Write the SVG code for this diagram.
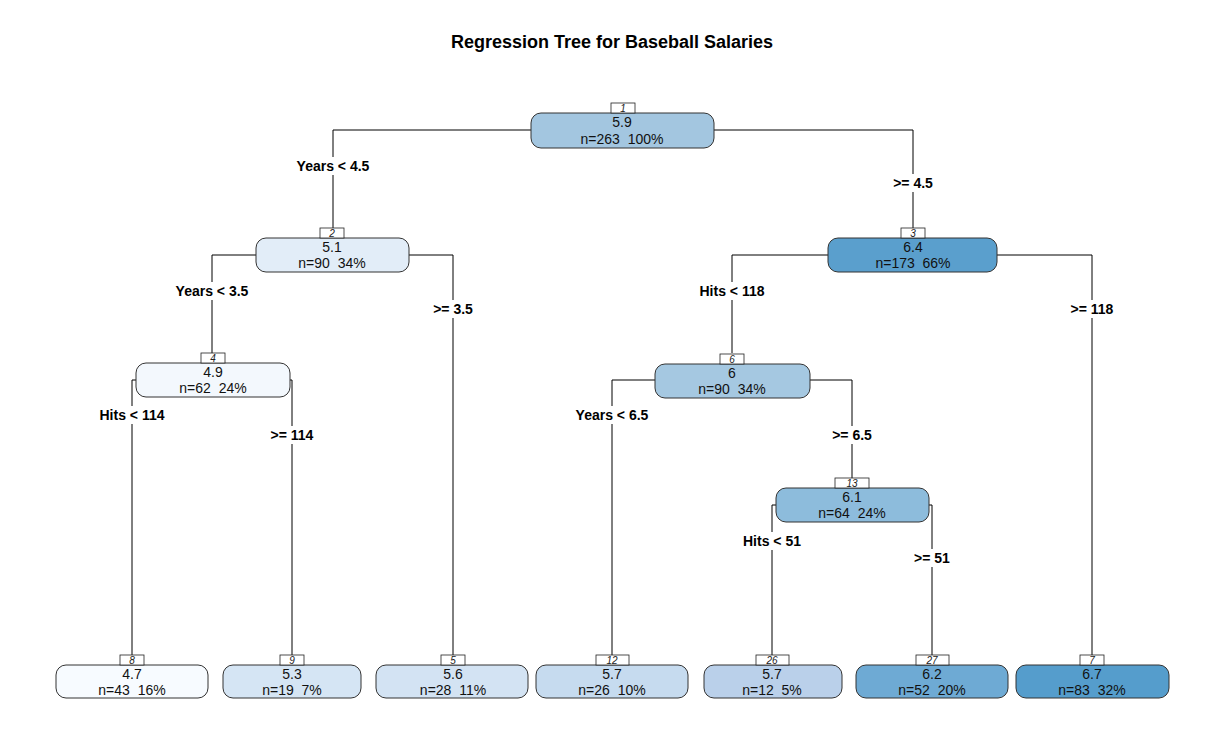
<svg xmlns="http://www.w3.org/2000/svg" width="1225" height="741" viewBox="0 0 1225 741">
<style>
.bg{fill:#ffffff}
.box{stroke:#333333;stroke-width:1}
.num{fill:#ffffff;stroke:#222222;stroke-width:0.8}
.numt{font-family:"Liberation Sans",Arial,sans-serif;font-size:10px;font-style:italic;text-anchor:middle;fill:#222}
.val{font-family:"Liberation Sans",Arial,sans-serif;font-size:14px;text-anchor:middle;fill:#111;white-space:pre}
.lab{font-family:"Liberation Sans",Arial,sans-serif;font-size:14px;font-weight:bold;text-anchor:middle;fill:#000}
.title{font-family:"Liberation Sans",Arial,sans-serif;font-size:18px;font-weight:bold;text-anchor:middle;fill:#000}
.edge{fill:none;stroke:#000;stroke-width:1}
.lbg{fill:#ffffff}
</style>
<rect class="bg" x="0" y="0" width="1225" height="741"/>
<text class="title" x="612" y="48">Regression Tree for Baseball Salaries</text>
<g id="connectors">
<path class="edge" d="M531,130 H333 V228"/>
<path class="edge" d="M714,130 H913 V228"/>
<path class="edge" d="M256,255 H212 V353"/>
<path class="edge" d="M409,255 H453 V655"/>
<path class="edge" d="M136,380 H132 V655"/>
<path class="edge" d="M290,380 H292 V655"/>
<path class="edge" d="M828,255 H732 V353"/>
<path class="edge" d="M997,255 H1092 V655"/>
<path class="edge" d="M655,380 H612 V655"/>
<path class="edge" d="M810,380 H852 V478"/>
<path class="edge" d="M776,505 H772 V655"/>
<path class="edge" d="M929,505 H932 V655"/>
<rect class="lbg" x="290" y="157" width="86" height="18"/><text class="lab" x="333" y="171">Years &lt; 4.5</text>
<rect class="lbg" x="888" y="174" width="50" height="18"/><text class="lab" x="913" y="188">&gt;= 4.5</text>
<rect class="lbg" x="169" y="282" width="86" height="18"/><text class="lab" x="212" y="296">Years &lt; 3.5</text>
<rect class="lbg" x="428" y="300" width="50" height="18"/><text class="lab" x="453" y="314">&gt;= 3.5</text>
<rect class="lbg" x="94" y="406" width="76" height="18"/><text class="lab" x="132" y="420">Hits &lt; 114</text>
<rect class="lbg" x="267" y="426" width="50" height="18"/><text class="lab" x="292" y="440">&gt;= 114</text>
<rect class="lbg" x="694" y="282" width="76" height="18"/><text class="lab" x="732" y="296">Hits &lt; 118</text>
<rect class="lbg" x="1067" y="300" width="50" height="18"/><text class="lab" x="1092" y="314">&gt;= 118</text>
<rect class="lbg" x="569" y="406" width="86" height="18"/><text class="lab" x="612" y="420">Years &lt; 6.5</text>
<rect class="lbg" x="827" y="426" width="50" height="18"/><text class="lab" x="852" y="440">&gt;= 6.5</text>
<rect class="lbg" x="740" y="532" width="64" height="18"/><text class="lab" x="772" y="546">Hits &lt; 51</text>
<rect class="lbg" x="910" y="549" width="44" height="18"/><text class="lab" x="932" y="563">&gt;= 51</text>
</g>
<g id="node1">
<rect class="box" x="531" y="113" width="183" height="35" rx="10" fill="#a3c6e0"/>
<rect class="num" x="611" y="103" width="24" height="10"/><text class="numt" x="623" y="112">1</text>
<text class="val" x="622" y="127">5.9</text><text class="val" x="622" y="144" xml:space="preserve">n=263  100%</text>
</g>
<g id="node2">
<rect class="box" x="256" y="238" width="153" height="34" rx="10" fill="#e2edf8"/>
<rect class="num" x="320" y="228" width="24" height="10"/><text class="numt" x="332" y="237">2</text>
<text class="val" x="332" y="252">5.1</text><text class="val" x="332" y="268" xml:space="preserve">n=90  34%</text>
</g>
<g id="node3">
<rect class="box" x="828" y="238" width="169" height="34" rx="10" fill="#5a9fcd"/>
<rect class="num" x="901" y="228" width="24" height="10"/><text class="numt" x="913" y="237">3</text>
<text class="val" x="913" y="252">6.4</text><text class="val" x="913" y="268" xml:space="preserve">n=173  66%</text>
</g>
<g id="node4">
<rect class="box" x="136" y="363" width="154" height="34" rx="10" fill="#f3f8fd"/>
<rect class="num" x="201" y="353" width="24" height="10"/><text class="numt" x="213" y="362">4</text>
<text class="val" x="213" y="377">4.9</text><text class="val" x="213" y="393" xml:space="preserve">n=62  24%</text>
</g>
<g id="node6">
<rect class="box" x="655" y="364" width="155" height="34" rx="10" fill="#a5c8e1"/>
<rect class="num" x="720" y="354" width="24" height="10"/><text class="numt" x="732" y="363">6</text>
<text class="val" x="732" y="378">6</text><text class="val" x="732" y="394" xml:space="preserve">n=90  34%</text>
</g>
<g id="node13">
<rect class="box" x="776" y="488" width="153" height="34" rx="10" fill="#8dbcdc"/>
<rect class="num" x="835" y="478" width="34" height="10"/><text class="numt" x="852" y="487">13</text>
<text class="val" x="852" y="502">6.1</text><text class="val" x="852" y="518" xml:space="preserve">n=64  24%</text>
</g>
<g id="node8">
<rect class="box" x="56" y="665" width="152" height="33" rx="10" fill="#f7fbff"/>
<rect class="num" x="120" y="655" width="24" height="10"/><text class="numt" x="132" y="664">8</text>
<text class="val" x="132" y="679">4.7</text><text class="val" x="132" y="695" xml:space="preserve">n=43  16%</text>
</g>
<g id="node9">
<rect class="box" x="223" y="665" width="138" height="33" rx="10" fill="#d5e5f4"/>
<rect class="num" x="280" y="655" width="24" height="10"/><text class="numt" x="292" y="664">9</text>
<text class="val" x="292" y="679">5.3</text><text class="val" x="292" y="695" xml:space="preserve">n=19  7%</text>
</g>
<g id="node5">
<rect class="box" x="376" y="665" width="152" height="33" rx="10" fill="#d3e3f3"/>
<rect class="num" x="441" y="655" width="24" height="10"/><text class="numt" x="453" y="664">5</text>
<text class="val" x="453" y="679">5.6</text><text class="val" x="453" y="695" xml:space="preserve">n=28  11%</text>
</g>
<g id="node12">
<rect class="box" x="536" y="665" width="152" height="33" rx="10" fill="#c6dbef"/>
<rect class="num" x="596" y="655" width="33" height="10"/><text class="numt" x="612" y="664">12</text>
<text class="val" x="612" y="679">5.7</text><text class="val" x="612" y="695" xml:space="preserve">n=26  10%</text>
</g>
<g id="node26">
<rect class="box" x="704" y="665" width="138" height="33" rx="10" fill="#bad0ea"/>
<rect class="num" x="756" y="655" width="33" height="10"/><text class="numt" x="772" y="664">26</text>
<text class="val" x="772" y="679">5.7</text><text class="val" x="772" y="695" xml:space="preserve">n=12  5%</text>
</g>
<g id="node27">
<rect class="box" x="856" y="665" width="152" height="33" rx="10" fill="#6eaad4"/>
<rect class="num" x="916" y="655" width="33" height="10"/><text class="numt" x="932" y="664">27</text>
<text class="val" x="932" y="679">6.2</text><text class="val" x="932" y="695" xml:space="preserve">n=52  20%</text>
</g>
<g id="node7">
<rect class="box" x="1016" y="665" width="153" height="33" rx="10" fill="#559dcc"/>
<rect class="num" x="1080" y="655" width="24" height="10"/><text class="numt" x="1092" y="664">7</text>
<text class="val" x="1092" y="679">6.7</text><text class="val" x="1092" y="695" xml:space="preserve">n=83  32%</text>
</g>
</svg>
